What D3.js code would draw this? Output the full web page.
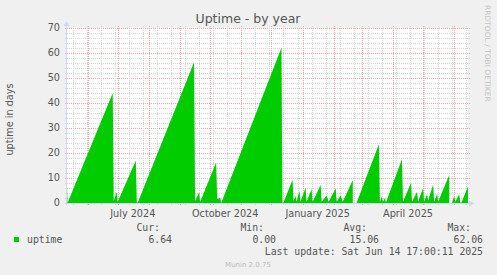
<!DOCTYPE html>
<meta charset="utf-8">
<style>
body { margin: 0; background: #f0f0f0; }
svg { display: block; font-family: "DejaVu Sans", sans-serif; }
.mono { font-family: "DejaVu Sans Mono", monospace; }
</style>
<svg width="497" height="275"></svg>
<script src="https://d3js.org/d3.v7.min.js"></script>
<script>

// uptime in days (vertices of the sawtooth, null = no data)
var uptimeDates = [
  "2024-05-11", "2024-05-12", "2024-06-26", "2024-06-27", "2024-06-30", "2024-07-01",
  "2024-07-19", "2024-07-20", "2024-07-21", "2024-09-15", "2024-09-16", "2024-09-20",
  "2024-09-21", "2024-10-07", "2024-10-08", "2024-10-11", "2024-10-12", "2024-12-11",
  "2024-12-12", "2024-12-13", "2024-12-22", "2024-12-23", "2024-12-25", "2024-12-26",
  "2024-12-29", "2024-12-30", "2025-01-04", "2025-01-05", "2025-01-10", "2025-01-11",
  "2025-01-19", "2025-01-20", "2025-01-25", "2025-01-27", "2025-02-03", "2025-02-04",
  "2025-02-08", "2025-02-10", "2025-02-20", "2025-02-22", "2025-02-24", "2025-03-18",
  "2025-03-19", "2025-03-21", "2025-03-22", "2025-03-24", "2025-03-25", "2025-04-10",
  "2025-04-11", "2025-04-19", "2025-04-20", "2025-04-25", "2025-04-26", "2025-05-01",
  "2025-05-02", "2025-05-05", "2025-05-06", "2025-05-11", "2025-05-12", "2025-05-15",
  "2025-05-16", "2025-05-27", "2025-05-28", "2025-05-30", "2025-06-01", "2025-06-02",
  "2025-06-06", "2025-06-07", "2025-06-08", "2025-06-14 17:00"
];
var uptimeValues = [
  15, 0, 44, 0.8, 4.5, 0.5,
  17, 0.3, 0.2, 56.3, 0.8, 4.3,
  0.4, 16.2, 1.5, 2.2, 0, 62.06,
  0, 0.2, 9.3, 0.8, 2.8, 0.5,
  4.8, 0.5, 6.1, 0.5, 5.5, 0.5,
  7.2, 0.5, 3, 0.5, 5.8, 0.5,
  3.1, 0.5, 9.2, null, 0.3, 23.5,
  0.5, 2.6, 0.5, 2, 0.2, 17.6,
  0.5, 8.1, 0.5, 4.5, 0.5, 6,
  0.5, 3.5, 1, 7.4, 0.5, 3.6,
  0.5, 11.2, null, 0.3, 2.8, 0.5,
  3.5, 0.3, 0, 6.64
];

var yTicks = [0, 10, 20, 30, 40, 50, 60, 70];
var xLabels = ["July 2024", "October 2024", "January 2025", "April 2025"];
var xLabelMonths = ["2024-07-01", "2024-10-01", "2025-01-01", "2025-04-01"];
var legendHeads = ["Cur:", "Min:", "Avg:", "Max:"];
var legendValues = ["6.64", "0.00", "15.06", "62.06"];
var rangeStart = "2024-05-11 12:00", rangeEnd = "2025-06-14 17:00";
var gridAnchor = "2024-05-17";

var parseMin = d3.timeParse("%Y-%m-%d %H:%M"),
    parseDay = d3.timeParse("%Y-%m-%d");
function parse(s) { return parseMin(s) || parseDay(s); }

var data = uptimeDates.map(function(d, i) { return {date: parse(d), v: uptimeValues[i]}; });

var svg = d3.select("svg");
var pL = 67, pR = 468, pT = 28, pB = 203;

var x = d3.scaleTime().domain([parse(rangeStart), parse(rangeEnd)]).range([pL, pR]);
var y = d3.scaleLinear().domain([0, 70]).range([pB, pT]);

// canvas
svg.append("rect").attr("x", pL).attr("y", pT)
    .attr("width", pR - pL).attr("height", pB - pT).attr("fill", "#fff");

var grid = svg.append("g").attr("shape-rendering", "crispEdges")
    .attr("stroke-width", 1).attr("stroke-dasharray", "1,1");

// horizontal grid
d3.range(0, 71, 2).forEach(function(v) {
  var yy = Math.round(y(v)) + 0.5;
  grid.append("line").attr("x1", pL - 2).attr("x2", pR + 2)
      .attr("y1", yy).attr("y2", yy)
      .attr("stroke", v % 10 === 0 ? "#eba4a4" : "#d4d4d4");
});

// vertical grid: two-week minor, monthly major
var t0 = x.domain()[0], t1 = x.domain()[1];
d3.timeDay.range(parse(gridAnchor), t1, 14).forEach(function(d) {
  var xx = Math.round(x(d)) + 0.5;
  grid.append("line").attr("x1", xx).attr("x2", xx)
      .attr("y1", pB + 2).attr("y2", pT - 2).attr("stroke", "#d4d4d4");
});
d3.timeMonth.range(t0, t1).forEach(function(d) {
  var xx = Math.round(x(d)) + 0.5;
  grid.append("line").attr("x1", xx).attr("x2", xx)
      .attr("y1", pB + 2).attr("y2", pT - 2).attr("stroke", "#eba4a4");
});

// uptime area
var area = d3.area()
    .defined(function(d) { return d.v != null; })
    .x(function(d) { return x(d.date); })
    .y0(y(0))
    .y1(function(d) { return y(d.v); });

svg.append("clipPath").attr("id", "clip").append("rect")
    .attr("x", pL).attr("y", pT - 2).attr("width", pR - pL).attr("height", pB - pT + 2);

svg.append("path").datum(data)
    .attr("clip-path", "url(#clip)")
    .attr("fill", "#00cc00")
    .attr("d", area);

// axes
var axis = svg.append("g").attr("fill", "#cfd6f8").attr("stroke", "#cfd6f8");
axis.append("line").attr("x1", pL - 2).attr("x2", pR + 2)
    .attr("y1", pB + 0.5).attr("y2", pB + 0.5).attr("shape-rendering", "crispEdges");
axis.append("line").attr("x1", pL - 0.5).attr("x2", pL - 0.5)
    .attr("y1", pB + 2).attr("y2", pT - 3).attr("shape-rendering", "crispEdges");
axis.append("path").attr("stroke", "none")
    .attr("d", "M" + (pR + 1) + "," + (pB - 2.5) + "L" + (pR + 6) + "," + (pB + 0.5) +
               "L" + (pR + 1) + "," + (pB + 3.5) + "Z");
axis.append("path").attr("stroke", "none")
    .attr("d", "M" + (pL - 3.5) + "," + (pT - 2) + "L" + (pL - 0.5) + "," + (pT - 7) +
               "L" + (pL + 2.5) + "," + (pT - 2) + "Z");

// tick labels
svg.append("g").selectAll("text").data(yTicks).enter().append("text")
    .attr("x", 60).attr("y", function(d) { return y(d); }).attr("dy", "0.36em")
    .attr("text-anchor", "end").attr("font-size", "9.7px").attr("fill", "#555")
    .text(function(d) { return d; });

svg.append("g").selectAll("text").data(xLabels).enter().append("text")
    .attr("x", function(d, i) { return x(d3.timeDay.offset(parse(xLabelMonths[i]), 15)); })
    .attr("y", 216.5)
    .attr("text-anchor", "middle").attr("font-size", "9.7px").attr("fill", "#555")
    .text(function(d) { return d; });

// titles
svg.append("text").attr("x", 248).attr("y", 23).attr("text-anchor", "middle")
    .attr("font-size", "12.5px").attr("fill", "#555").text("Uptime - by year");

svg.append("text").attr("transform", "translate(13,119.5) rotate(-90)")
    .attr("text-anchor", "middle").attr("font-size", "9.7px").attr("fill", "#555")
    .text("uptime in days");

svg.append("text").attr("transform", "translate(484.5,5) rotate(90)")
    .attr("font-size", "7.5px").attr("fill", "#c4c4c4")
    .text("RRDTOOL / TOBI OETIKER");

// legend
svg.append("rect").attr("x", 14).attr("y", 237).attr("width", 5).attr("height", 5).attr("fill", "#00cc00");
svg.append("text").attr("class", "mono").attr("x", 27).attr("y", 242.5)
    .attr("font-size", "9.8px").attr("fill", "#555").text("uptime");

var colEnds = [172, 276, 379, 483];
svg.append("g").selectAll("text").data(legendHeads).enter().append("text")
    .attr("class", "mono").attr("x", function(d, i) { return colEnds[i] - 12; }).attr("y", 231)
    .attr("text-anchor", "end").attr("font-size", "9.8px").attr("fill", "#555")
    .text(function(d) { return d; });
svg.append("g").selectAll("text").data(legendValues).enter().append("text")
    .attr("class", "mono").attr("x", function(d, i) { return colEnds[i]; }).attr("y", 242.5)
    .attr("text-anchor", "end").attr("font-size", "9.8px").attr("fill", "#555")
    .text(function(d) { return d; });

svg.append("text").attr("class", "mono").attr("x", 483).attr("y", 254.5)
    .attr("text-anchor", "end").attr("font-size", "9.8px").attr("fill", "#555")
    .text("Last update: Sat Jun 14 17:00:11 2025");

svg.append("text").attr("x", 248).attr("y", 267).attr("text-anchor", "middle")
    .attr("font-size", "7px").attr("fill", "#bbb").text("Munin 2.0.75");

</script>
